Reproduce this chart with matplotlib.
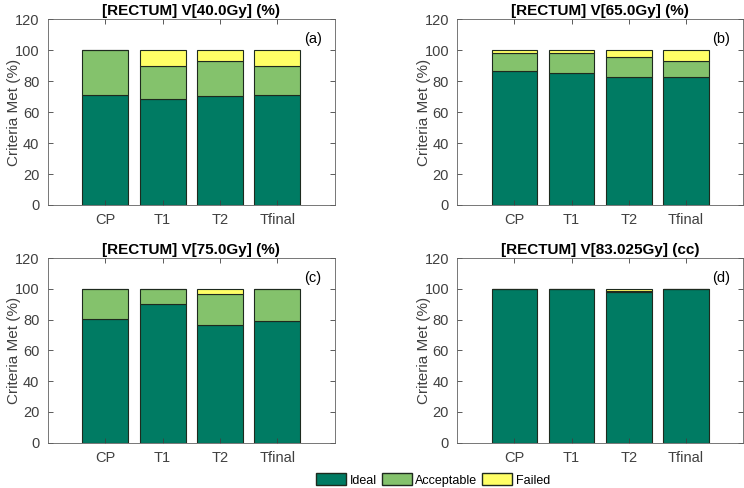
import numpy as np
import matplotlib.pyplot as plt
from matplotlib.patches import Patch

plt.rcParams['font.family'] = ['Liberation Sans', 'DejaVu Sans']

cats = ['CP', 'T1', 'T2', 'Tfinal']
titles = ['[RECTUM] V[40.0Gy] (%)', '[RECTUM] V[65.0Gy] (%)',
          '[RECTUM] V[75.0Gy] (%)', '[RECTUM] V[83.025Gy] (cc)']
tags = ['(a)', '(b)', '(c)', '(d)']

# ideal / acceptable / failed percentages per panel
ideal = [[71.2, 68.8, 70.1, 71.2],
         [86.5, 85.0, 82.4, 82.4],
         [80.6, 90.5, 76.8, 79.5],
         [100.0, 100.0, 98.3, 100.0]]
accept = [[28.8, 21.3, 22.8, 18.9],
          [12.0, 13.5, 13.3, 10.5],
          [19.4, 9.5, 20.2, 20.5],
          [0.0, 0.0, 0.7, 0.0]]
failed = [[0.0, 9.9, 7.1, 9.9],
          [1.5, 1.5, 4.3, 7.1],
          [0.0, 0.0, 3.0, 0.0],
          [0.0, 0.0, 1.0, 0.0]]

c_ideal = '#007B63'
c_acc = '#84C26C'
c_fail = '#FFFF66'
edge = '#1e2a1e'
grey = '#404040'

fig = plt.figure(figsize=(7.44, 4.88), dpi=100)
pos = [[0.0641, 0.580, 0.386, 0.3805],
       [0.6147, 0.580, 0.384, 0.3805],
       [0.0641, 0.0928, 0.386, 0.378],
       [0.6147, 0.0928, 0.384, 0.378]]

x = np.arange(1, len(cats) + 1)
for i in range(4):
    ax = fig.add_axes(pos[i])
    a = np.array(ideal[i])
    b = np.array(accept[i])
    f = np.array(failed[i])
    ax.bar(x, a, 0.8, color=c_ideal, edgecolor=edge, linewidth=0.8)
    ax.bar(x, b, 0.8, bottom=a, color=c_acc, edgecolor=edge, linewidth=0.8)
    ax.bar(x, f, 0.8, bottom=a + b, color=c_fail, edgecolor=edge, linewidth=0.8)
    ax.set_xlim(0, 5)
    ax.set_ylim(0, 120)
    ax.set_yticks(range(0, 121, 20))
    ax.set_xticks(x)
    ax.set_xticklabels(cats)
    ax.tick_params(direction='in', top=True, right=True, length=3.5, width=0.6,
                   labelsize=10.5, colors=grey, labelcolor=grey, pad=6)
    for s in ax.spines.values():
        s.set_color('#606060')
        s.set_linewidth(0.6)
    ax.set_title(titles[i], fontsize=11, fontweight='bold', pad=3)
    ax.set_ylabel('Criteria Met (%)', fontsize=11, color=grey)
    ax.yaxis.set_label_coords(-0.092, 0.5)
    ax.text(4.62, 107, tags[i], fontsize=10.5, ha='center', va='center')

handles = [Patch(facecolor=c_ideal, edgecolor=edge, label='Ideal'),
           Patch(facecolor=c_acc, edgecolor=edge, label='Acceptable'),
           Patch(facecolor=c_fail, edgecolor=edge, label='Failed')]
fig.legend(handles=handles, loc='center', bbox_to_anchor=(0.582, 0.0165), ncol=3,
           frameon=False, fontsize=9, handlelength=2.4, handleheight=1.1,
           handletextpad=0.3, columnspacing=0.4)

fig.savefig('out.png', dpi=100)
